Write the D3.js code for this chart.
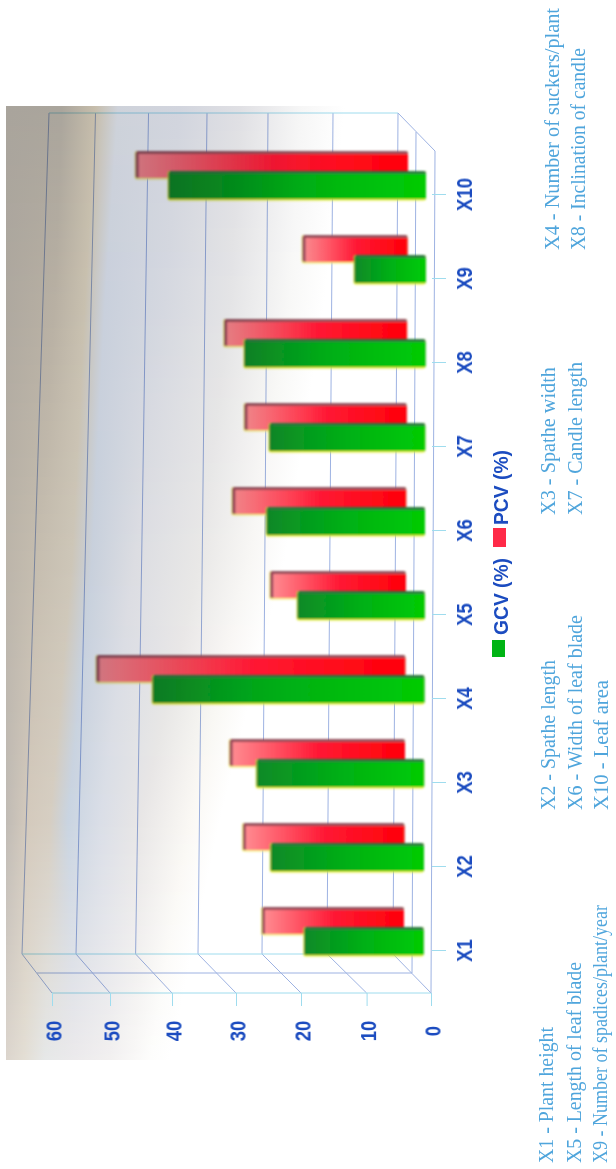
<!DOCTYPE html>
<html>
<head>
<meta charset="utf-8">
<script src="https://cdnjs.cloudflare.com/ajax/libs/d3/7.8.5/d3.min.js"></script>
<style>
html,body{margin:0;padding:0;background:#fff;}
#wrap{position:relative;width:616px;height:1169px;overflow:hidden;}
canvas,svg{position:absolute;left:0;top:0;}
#marks{mix-blend-mode:multiply;}
</style>
</head>
<body>
<div id="wrap">
<canvas id="paper" width="616" height="1169"></canvas>
<svg id="chart" width="616" height="1169"></svg>
</div>
<script>
// Trait codes and the two coefficients of variation (%)
const categories = ["X1","X2","X3","X4","X5","X6","X7","X8","X9","X10"];
const gcv = [18.5, 23.7, 25.9, 42.2, 19.7, 24.5, 24.1, 28.0, 11.1, 39.9];
const pcv = [22.0, 25.0, 27.1, 48.2, 21.0, 26.9, 25.1, 28.3, 16.3, 42.3];
const valueTicks = [0, 10, 20, 30, 40, 50, 60];
const seriesNames = ["GCV (%)", "PCV (%)"];
const traitNotes = [
  "X1 - Plant height", "X5 - Length of leaf blade", "X9 - Number of spadices/plant/year",
  "X2 - Spathe length", "X6 - Width of leaf blade", "X10 - Leaf area",
  "X3 - Spathe width", "X7 - Candle length",
  "X4 - Number of suckers/plant", "X8 - Inclination of candle"
];

const W = 616, H = 1169;
const BLUE = "#1a4cc0", NOTE = "#4fa5dc", GRID = "#9db2e2", FLOOR = "#9fdcee";

// Perspective: one value scale per plane of the box
const frontX = d3.scaleLinear().domain(valueTicks).range([431, 366.6, 301, 236, 172, 110, 52]);
const backLowX = d3.scaleLinear().domain(valueTicks).range([393, 327, 262, 198, 135.6, 76, 22]);
const backHighX = d3.scaleLinear().domain(valueTicks).range([398, 333, 268, 207, 148.5, 95.5, 49]);
const midLowX = v => (frontX(v) + backLowX(v)) / 2;

const catY = d3.scalePoint().domain(categories).range([950, 194]);
const barLen = d3.scaleLinear().domain(valueTicks).range([0, 64, 129, 194, 258, 320, 378]);
const idx = d3.scaleLinear().domain([0, categories.length - 1]).range([0, 1]);
const greenBase = i => d3.interpolate(423.6, 426)(idx(i));
const redBase = i => d3.interpolate(404, 408)(idx(i));

// Scanned paper tone: bands drift left toward the bottom of the sheet
const paperKeys = [
  {y:106,  s:[[6,"#a9a49c"],[62,"#aaa59c"],[95,"#c6bdab"],[118,"#ced2da"],[180,"#d2d5de"],[240,"#e0e0e4"],[300,"#f6f6f6"],[345,"#ffffff"]]},
  {y:300,  s:[[6,"#aea89f"],[55,"#b8b0a3"],[85,"#c8c0af"],[105,"#c9d0dc"],[165,"#d5d8e0"],[230,"#e4e4e6"],[290,"#f8f8f7"],[325,"#ffffff"]]},
  {y:560,  s:[[6,"#bcb5aa"],[40,"#c6beb0"],[72,"#cdc6b8"],[92,"#c8d0dc"],[135,"#dcdde2"],[200,"#e9e8e7"],[250,"#f8f7f5"],[285,"#ffffff"]]},
  {y:820,  s:[[6,"#c0bbb5"],[28,"#d4cabd"],[50,"#d6cec2"],[68,"#c9d4e1"],[100,"#dadee7"],[140,"#e8e6e6"],[190,"#faf8f4"],[220,"#ffffff"]]},
  {y:1060, s:[[6,"#dcd5cd"],[24,"#e3ded4"],[45,"#e6e8e8"],[75,"#eceaec"],[110,"#f2f0f0"],[135,"#f9f8f7"],[150,"#fdfdfc"],[170,"#ffffff"]]}
];
const ctx = document.getElementById("paper").getContext("2d");
ctx.fillStyle = "#fff";
ctx.fillRect(0, 0, W, H);
const rowKey = d3.scaleLinear().domain(paperKeys.map(d => d.y)).range(paperKeys.map((d, i) => i)).clamp(true);
for (let y = 106; y < 1060; y++) {
  const t = rowKey(y), a = Math.min(Math.floor(t), paperKeys.length - 2), f = t - a;
  const stops = paperKeys[a].s.map((p, k) => {
    const q = paperKeys[a + 1].s[k];
    return [p[0] + (q[0] - p[0]) * f, d3.interpolateRgb(p[1], q[1])(f)];
  });
  const g = ctx.createLinearGradient(0, 0, W, 0);
  stops.forEach(p => g.addColorStop(p[0] / W, p[1]));
  g.addColorStop(1, "#fff");
  ctx.fillStyle = g;
  ctx.fillRect(6, y, W - 6, 1);
}

const svg = d3.select("#chart");
const defs = svg.append("defs");
function barGradient(id, from, mid, to) {
  const g = defs.append("linearGradient").attr("id", id);
  g.append("stop").attr("offset", "0%").attr("stop-color", from);
  g.append("stop").attr("offset", "50%").attr("stop-color", mid);
  g.append("stop").attr("offset", "100%").attr("stop-color", to);
}
barGradient("greenFill", "#0a8a28", "#02b014", "#00cc04");
barGradient("redFill", "#ff8a90", "#ff1834", "#ff0008");
const softEdge = defs.append("filter").attr("id", "soft");
softEdge.append("feGaussianBlur").attr("stdDeviation", 0.8);
const softText = defs.append("filter").attr("id", "softText");
softText.append("feGaussianBlur").attr("stdDeviation", 0.4);

const marks = svg.append("g").attr("id", "marks");
const gridLayer = marks.append("g").attr("fill", "none").attr("stroke-width", 1);

// Back wall: value lines and top rail
gridLayer.selectAll("line.wall").data(valueTicks).join("line").attr("class", "wall")
  .attr("x1", d => backLowX(d)).attr("y1", 954)
  .attr("x2", d => backHighX(d)).attr("y2", 113)
  .attr("stroke", GRID);
// Floor: lines running from the wall to the front edge
gridLayer.selectAll("line.floor").data(valueTicks).join("line").attr("class", "floor")
  .attr("x1", d => backLowX(d)).attr("y1", 954)
  .attr("x2", d => frontX(d)).attr("y2", 993)
  .attr("stroke", GRID);
// Rails along the category direction
const rails = [
  [backHighX(60), 113, backHighX(0), 113, FLOOR],
  [backLowX(60), 954, backLowX(0), 954, FLOOR],
  [midLowX(60), 973, midLowX(0), 973, GRID],
  [frontX(60), 993, frontX(0), 993, FLOOR],
  [backHighX(0), 113, backHighX(0) + 37, 151, GRID],
  [backLowX(0) + 19, 973, backHighX(0) + 18, 132, GRID],
  [frontX(0), 993, frontX(0) + 4, 151, GRID]
];
gridLayer.selectAll("line.rail").data(rails).join("line").attr("class", "rail")
  .attr("x1", d => d[0]).attr("y1", d => d[1])
  .attr("x2", d => d[2]).attr("y2", d => d[3])
  .attr("stroke", d => d[4]);

// Bars: the far series first so the near series overlaps it
function drawSeries(values, base, top, height, fill, topFace, endFace, edge, capWidth) {
  const g = marks.append("g").attr("filter", "url(#soft)");
  const rows = values.map((v, i) => ({
    v, i, c: catY(categories[i]), b: base(i), e: base(i) - barLen(v)
  }));
  // glow that rims the lower and far edges
  g.selectAll("rect.rim").data(rows).join("rect").attr("class", "rim")
    .attr("x", d => d.e - 1).attr("y", d => d.c + top)
    .attr("width", d => d.b - d.e + 1).attr("height", height + 1.5)
    .attr("rx", 2).attr("fill", edge);
  // shaded side along the top of the bar
  g.selectAll("rect.side").data(rows).join("rect").attr("class", "side")
    .attr("x", d => d.e).attr("y", d => d.c + top)
    .attr("width", d => d.b - d.e).attr("height", height)
    .attr("rx", 2).attr("fill", topFace);
  // shaded cap at the value end
  g.selectAll("rect.cap").data(rows).join("rect").attr("class", "cap")
    .attr("x", d => d.e).attr("y", d => d.c + top + 1)
    .attr("width", capWidth + 2).attr("height", height - 1)
    .attr("rx", 1.5).attr("fill", endFace);
  // visible face
  g.selectAll("rect.face").data(rows).join("rect").attr("class", "face")
    .attr("x", d => d.e + capWidth).attr("y", d => d.c + top + 3)
    .attr("width", d => d.b - d.e - capWidth).attr("height", height - 3)
    .attr("fill", fill);
}
drawSeries(pcv, redBase, -43, 27, "url(#redFill)", "#94505c", "#9a4a5c", "#f6ee80", 3);
drawSeries(gcv, greenBase, -23, 28, "url(#greenFill)", "#2a7a3c", "#1a7a30", "#e4ee3c", 1);

// Rotated axis text: tall glyphs squeezed along the reading direction
function styleAxisText(sel, shift) {
  sel.attr("transform", `translate(${shift[0]},${shift[1]}) rotate(-90) scale(0.84,1)`)
    .attr("x", 0).attr("y", 0).attr("dy", "0.36em")
    .attr("text-anchor", "middle")
    .attr("fill", BLUE)
    .attr("filter", "url(#softText)")
    .style("font", "bold 22px 'Liberation Sans', Arial, sans-serif");
}

// Value axis on the front edge
const valueAxis = d3.axisBottom(frontX).tickValues(valueTicks).tickSize(13).tickPadding(0).tickFormat(d3.format("d"));
const vg = svg.append("g").attr("transform", "translate(0,993)").call(valueAxis);
vg.select(".domain").remove();
vg.selectAll(".tick line").attr("stroke", FLOOR);
vg.selectAll(".tick text").call(styleAxisText, [1, 38]);

// Category axis to the right of the floor
const catAxis = d3.axisRight(catY).tickSize(14).tickPadding(0);
const cg = svg.append("g").attr("transform", "translate(432,0)").call(catAxis);
cg.select(".domain").remove();
cg.selectAll(".tick line").attr("stroke", FLOOR);
cg.selectAll(".tick text").call(styleAxisText, [32, 0]);

// Legend swatches and names
const legendAt = [
  {sy: 640, sh: 17, sx: 492, ty: 635, len: 77},
  {sy: 528, sh: 19, sx: 493, ty: 525, len: 75}
];
const swatchFill = ["#00b414", "#ff2a48"];
seriesNames.forEach((name, i) => {
  const l = legendAt[i];
  svg.append("rect").attr("x", l.sx).attr("y", l.sy).attr("width", 13).attr("height", l.sh)
    .attr("fill", swatchFill[i]);
  svg.append("text")
    .attr("transform", `translate(500,${l.ty}) rotate(-90)`)
    .attr("dy", "0.36em")
    .attr("textLength", l.len).attr("lengthAdjust", "spacingAndGlyphs")
    .attr("fill", BLUE)
    .attr("filter", "url(#softText)")
    .style("font", "bold 21px 'Liberation Sans', Arial, sans-serif")
    .text(name);
});

// Key to the trait codes, in four groups of rotated lines
const noteAt = [
  [546,1163,136],[574,1163,201],[600,1163,258],
  [548,810,150],[575,810,195],[601,810,130],
  [548,515,148],[575,515,153],
  [552,250,242],[578,250,202]
];
svg.append("g").attr("filter", "url(#softText)").selectAll("text").data(traitNotes).join("text")
  .attr("transform", (d, i) => `translate(${noteAt[i][0]},${noteAt[i][1]}) rotate(-90)`)
  .attr("dy", "0.33em")
  .attr("textLength", (d, i) => noteAt[i][2]).attr("lengthAdjust", "spacingAndGlyphs")
  .attr("fill", NOTE)
  .style("font", "22px 'Liberation Serif', 'Times New Roman', serif")
  .text(d => d);
</script>
</body>
</html>
